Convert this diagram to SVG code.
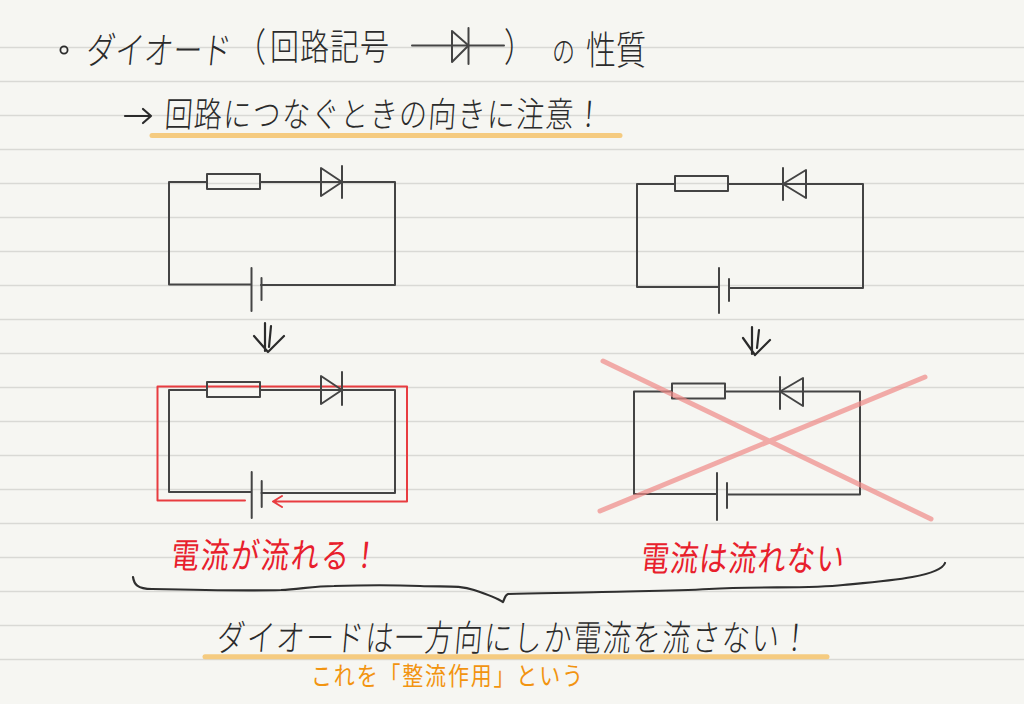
<svg xmlns="http://www.w3.org/2000/svg" width="1024" height="704" viewBox="0 0 1024 704">
<style>
.t{font-family:"Noto Sans CJK JP","Noto Sans CJK SC",sans-serif;fill:#2b2b2b;font-weight:300}
.red{fill:#e8202c;font-weight:400}
.org{fill:#f29410;font-weight:400}
.c{fill:none;stroke:#444;stroke-width:2;stroke-linejoin:round;stroke-linecap:round}
.k{fill:none;stroke:#2b2b2b;stroke-width:2.2;stroke-linecap:round;stroke-linejoin:round}
.u{stroke:#f5cb80;stroke-width:5;stroke-linecap:round}
.x{stroke:#f08a88;stroke-opacity:.7;stroke-width:5;stroke-linecap:round}
.r{fill:none;stroke:#e83c40;stroke-width:2;stroke-linejoin:round;stroke-linecap:round}
.ln{stroke:#d9d9d5;stroke-width:1.3}
</style>
<defs>
<path id="rule" class="ln" d="M0 0H1024"/>
</defs>
<rect width="1024" height="704" fill="#f6f6f2"/>
<g id="rules">
<use href="#rule" y="47.5"/><use href="#rule" y="81.5"/><use href="#rule" y="115.5"/><use href="#rule" y="149.5"/><use href="#rule" y="183.5"/><use href="#rule" y="217.5"/><use href="#rule" y="251.5"/><use href="#rule" y="285.5"/><use href="#rule" y="319.5"/><use href="#rule" y="353.5"/><use href="#rule" y="387.5"/><use href="#rule" y="421.5"/><use href="#rule" y="455.5"/><use href="#rule" y="489.5"/><use href="#rule" y="523.5"/><use href="#rule" y="557.5"/><use href="#rule" y="591.5"/><use href="#rule" y="625.5"/><use href="#rule" y="659.5"/>
</g>
<g id="title">
<circle cx="64" cy="50" r="3.6" fill="none" stroke="#2b2b2b" stroke-width="1.8"/>
<text class="t" transform="translate(85 64) skewX(-6) scale(1 1.3)" font-size="29" textLength="145" lengthAdjust="spacing">ダイオード</text>
<text class="t" transform="translate(236 61) scale(1 1.3)" font-size="30">（</text>
<text class="t" transform="translate(270 60) scale(1 1.25)" font-size="29" textLength="119" lengthAdjust="spacing">回路記号</text>
<g class="c">
<path d="M412 45.500H504"/>
<path d="M452 31V62L468.500 45.500Z"/>
<path d="M468.500 28V64"/>
</g>
<text class="t" transform="translate(504 61) scale(1 1.3)" font-size="30">）</text>
<text class="t" transform="translate(552 62) scale(1 1.3)" font-size="23">の</text>
<text class="t" transform="translate(586 64) scale(1 1.3)" font-size="30" textLength="60" lengthAdjust="spacing">性質</text>
</g>
<g id="subtitle">
<path class="k" d="M125 116H151M143 109L151 116L143 123"/>
<text class="t" transform="translate(164 127) skewX(-4) scale(1 1.25)" font-size="28" textLength="438" lengthAdjust="spacing">回路につなぐときの向きに注意！</text>
<path class="u" d="M152 135.500H620"/>
</g>
<g id="circuit-forward">
<path class="c" d="M207 182H169V284.500H251M261 285H395V182H342H321H260"/>
<rect class="c" x="207" y="174" width="53" height="15" fill="#f6f6f2"/>
<path class="c" d="M321 168V196L342 182Z"/>
<path class="c" d="M342 166V198M251.500 268V311M261.500 278V300"/>
</g>
<g id="circuit-reverse">
<path class="c" d="M675 184H637V287H719M729 288H863V184H806H783H728"/>
<rect class="c" x="675" y="176" width="53" height="15"/>
<path class="c" d="M806 170V198L783 184Z"/>
<path class="c" d="M783 168V200M719 268V313M729 279V301"/>
</g>
<g id="arrows">
<path class="k" d="M265 323V351M271 326L269 347M254 336L268 352L284 336"/>
<path class="k" d="M752 327V354M759 330L757 348M743 338L755 355L770 340"/>
</g>
<g id="circuit-flow">
<path class="r" d="M245 500.500H157.500V386.500H407V501.500H274M282 496L273 501.500L282 507"/>
<path class="c" d="M207 390H169V492H251M261.500 493H395V390H342H321H260"/>
<rect class="c" x="207" y="382" width="53" height="15"/>
<path class="c" d="M321 376V404L342 390Z"/>
<path class="c" d="M342 372V405M251.700 472V518M261.700 481V507"/>
<text class="t red" transform="translate(170 568) skewX(-6) scale(1 1.25)" font-size="28" textLength="208" lengthAdjust="spacing">電流が流れる！</text>
</g>
<g id="circuit-blocked">
<path class="c" d="M672 391.500H634V494H717M727 494.500H860V391.500H803H780H725"/>
<rect class="c" x="672" y="383.500" width="53" height="15"/>
<path class="c" d="M803 378V406L780 391.500Z"/>
<path class="c" d="M780 377V409M717 473V520M727 483V508"/>
<path class="x" d="M603 361L931 519M925 377L600 511"/>
<text class="t red" transform="translate(640 571) skewX(-6) scale(1 1.25)" font-size="28" textLength="203" lengthAdjust="spacing">電流は流れない</text>
</g>
<g id="conclusion">
<path d="M133 577C134 584 137 589 152 589C195 590 245 591 281 590C300 589 315 586 334 586C365 585 395 585 420 586C445 587 460 585 474 590C486 594 497 598 503 602C505 598 505 595 508 594C540 593 570 593 602 592C640 591 675 591 709 589C760 586 810 589 843 585C885 581 940 577 945 563" fill="none" stroke="#2f2f2f" stroke-width="2.200" stroke-linecap="round" stroke-linejoin="round"/>
<text class="t" transform="translate(216 651) skewX(-5) scale(1 1.3)" font-size="28" textLength="592" lengthAdjust="spacing">ダイオードは一方向にしか電流を流さない！</text>
<path class="u" d="M205 656.800H827"/>
<text class="t org" transform="translate(311 685) scale(1 1.2)" font-size="21" textLength="272" lengthAdjust="spacing">これを「整流作用」という</text>
</g>
</svg>
